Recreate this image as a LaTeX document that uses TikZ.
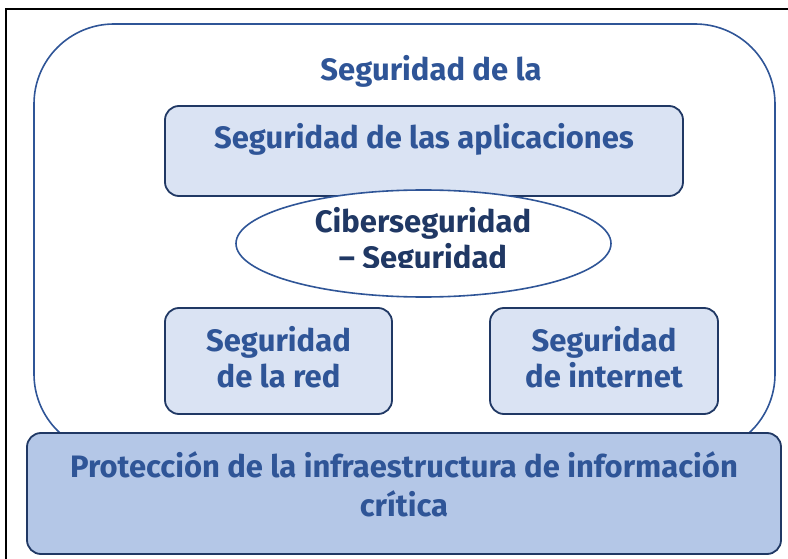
\documentclass[tikz,border=0pt]{standalone}
\usepackage{fontspec}
\setmainfont{Fira Sans}
\usetikzlibrary{shapes}
\definecolor{segblue}{HTML}{2F5597}
\definecolor{segnavy}{HTML}{203864}
\definecolor{segfill}{HTML}{DAE3F3}
\definecolor{infrafill}{HTML}{B4C7E7}
\tikzset{
    segfont/.style = {font=\bfseries\fontsize{31}{36}\selectfont},
    frameline/.style = {line width=2.4pt, draw=black},
    outerbox/.style = {rectangle, draw=segblue, line width=1.6pt, rounded corners=80pt, minimum width=741pt, minimum height=430pt},
    areabox/.style = {rectangle, draw=segnavy, line width=1.8pt, rounded corners=14pt, fill=segfill, text=segblue, align=center, segfont},
    infrabox/.style = {areabox, fill=infrafill},
    cyber/.style = {ellipse, draw=segblue, line width=1.6pt, fill=white, minimum width=375pt, minimum height=107pt}
}

\begin{document}
\begin{tikzpicture}[x=1pt, y=-1pt]
  \useasboundingbox (0,0) rectangle (788,559);
  \draw[frameline] (6,559) -- (6,9) -- (788,9);

  \node[outerbox] (seg) at (404.5,239) {};
  \node[segfont, text=segblue] (segla) at (431,71) {Seguridad de la};

  \node[areabox, minimum width=518pt, minimum height=90pt, text height=22pt, text depth=26pt] (apps) at (424,151) {Seguridad de las aplicaciones};

  \node[cyber] (ciber) at (423.5,243.5) {};
  % second line is cut off in the original
  \begin{scope}
    \clip (236,190) rectangle (611,267);
    \node[segfont, text=segnavy, align=center] (cibertext) at (423,241) {Ciberseguridad\\– Seguridad};
  \end{scope}

  \node[areabox, minimum width=227pt, minimum height=106pt, text depth=8pt] (red) at (278.5,361) {Seguridad\\de la red};
  \node[areabox, minimum width=228pt, minimum height=106pt, text depth=8pt] (internet) at (604,361) {Seguridad\\de internet};

  \node[infrabox, minimum width=754pt, minimum height=121pt, text depth=18pt] (infra) at (404,493.5) {Protección de la infraestructura de información\\[3pt]crítica};
\end{tikzpicture}
\end{document}
